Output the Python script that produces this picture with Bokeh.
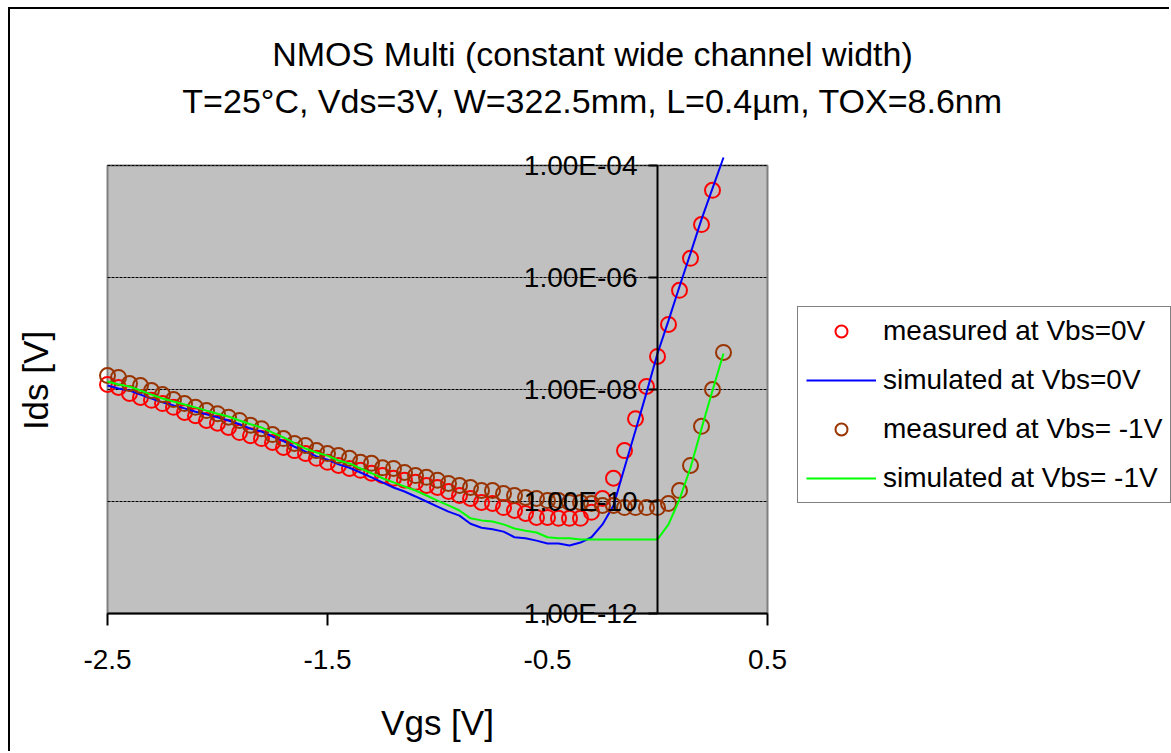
import math
from bokeh.plotting import figure
from bokeh.models import (FixedTicker, LogAxis, LinearAxis, Label, Legend, LegendItem,
                          CustomJSTickFormatter, ColumnDataSource, Range1d)
from bokeh.embed import file_html
from bokeh.resources import INLINE

# ---------------- data ----------------
vgs = [-2.5, -2.45, -2.4, -2.35, -2.3, -2.25, -2.2, -2.15, -2.1, -2.05,
       -2.0, -1.95, -1.9, -1.85, -1.8, -1.75, -1.7, -1.65, -1.6, -1.55,
       -1.5, -1.45, -1.4, -1.35, -1.3, -1.25, -1.2, -1.15, -1.1, -1.05,
       -1.0, -0.95, -0.9, -0.85, -0.8, -0.75, -0.7, -0.65, -0.6, -0.55,
       -0.5, -0.45, -0.4, -0.35, -0.3, -0.25, -0.2, -0.15, -0.1, -0.05,
       0.0, 0.05, 0.1, 0.15, 0.2, 0.25, 0.3]
vgs_meas_0v = vgs[:-1]

meas_0v = [1.23e-8, 1.09e-8, 8.5e-9, 7.2e-9, 6.4e-9, 5.6e-9, 4.8e-9, 3.9e-9, 3.4e-9, 2.8e-9,
           2.5e-9, 2.1e-9, 1.7e-9, 1.5e-9, 1.33e-9, 1.13e-9, 9.2e-10, 8.1e-10, 7.2e-10, 5.9e-10,
           5.0e-10, 4.4e-10, 3.9e-10, 3.6e-10, 3.2e-10, 2.9e-10, 2.6e-10, 2.4e-10, 2.2e-10, 1.93e-10,
           1.78e-10, 1.51e-10, 1.28e-10, 1.13e-10, 9.6e-11, 9.2e-11, 7.8e-11, 6.9e-11, 6.1e-11, 5.2e-11,
           5.2e-11, 5.0e-11, 5.0e-11, 5.0e-11, 6.4e-11, 1.13e-10, 2.6e-10, 8.1e-10, 3.0e-9, 1.13e-8,
           3.9e-8, 1.45e-7, 5.9e-7, 2.2e-6, 8.8e-6, 3.6e-5]

sim_0v = [1.18e-8, 1.04e-8, 9.6e-9, 8.1e-9, 6.9e-9, 5.9e-9, 5.2e-9, 4.6e-9, 4.0e-9, 3.6e-9,
          3.2e-9, 2.8e-9, 2.4e-9, 2.0e-9, 1.78e-9, 1.45e-9, 1.2e-9, 9.5e-10, 7.8e-10, 6.4e-10,
          5.6e-10, 4.6e-10, 4.0e-10, 3.3e-10, 2.7e-10, 2.2e-10, 1.78e-10, 1.51e-10, 1.23e-10, 1.0e-10,
          8.1e-11, 6.6e-11, 5.6e-11, 4.0e-11, 3.4e-11, 3.2e-11, 2.9e-11, 2.3e-11, 2.2e-11, 2.0e-11,
          1.78e-11, 1.78e-11, 1.64e-11, 1.85e-11, 2.3e-11, 3.9e-11, 8.5e-11, 4.0e-10, 1.85e-9, 8.8e-9,
          4.4e-8, 1.7e-7, 6.9e-7, 2.7e-6, 1.09e-5, 3.9e-5, 1.39e-4]

meas_m1v = [1.78e-8, 1.64e-8, 1.28e-8, 1.18e-8, 9.6e-9, 8.1e-9, 6.6e-9, 5.6e-9, 4.8e-9, 4.2e-9,
            3.7e-9, 3.2e-9, 2.8e-9, 2.3e-9, 2.0e-9, 1.57e-9, 1.33e-9, 1.09e-9, 1.0e-9, 8.1e-10,
            7.2e-10, 6.6e-10, 5.9e-10, 5.0e-10, 4.8e-10, 4.0e-10, 3.9e-10, 3.3e-10, 2.9e-10, 2.7e-10,
            2.4e-10, 2.1e-10, 1.93e-10, 1.78e-10, 1.57e-10, 1.57e-10, 1.39e-10, 1.28e-10, 1.18e-10, 1.13e-10,
            1.04e-10, 1.04e-10, 9.6e-11, 9.6e-11, 9.2e-11, 8.5e-11, 8.5e-11, 7.8e-11, 7.8e-11, 7.8e-11,
            7.8e-11, 9.2e-11, 1.57e-10, 4.4e-10, 2.2e-9, 1.0e-8, 4.6e-8]

sim_m1v = [1.39e-8, 1.23e-8, 1.13e-8, 9.6e-9, 8.1e-9, 6.9e-9, 6.1e-9, 5.4e-9, 4.8e-9, 4.2e-9,
           3.7e-9, 3.3e-9, 2.8e-9, 2.4e-9, 2.1e-9, 1.7e-9, 1.4e-9, 1.1e-9, 8.8e-10, 7.5e-10,
           6.6e-10, 5.4e-10, 4.8e-10, 3.9e-10, 3.2e-10, 2.6e-10, 2.2e-10, 1.85e-10, 1.57e-10, 1.28e-10,
           1.04e-10, 8.5e-11, 6.9e-11, 5.0e-11, 4.6e-11, 4.4e-11, 3.9e-11, 3.3e-11, 3.0e-11, 2.8e-11,
           2.3e-11, 2.2e-11, 2.2e-11, 2.1e-11, 2.1e-11, 2.1e-11, 2.1e-11, 2.1e-11, 2.1e-11, 2.1e-11,
           2.1e-11, 3.9e-11, 1.09e-10, 4.0e-10, 2.0e-9, 9.6e-9, 4.4e-8]

x_ticks = [-2.5, -1.5, -0.5, 0.5]
y_ticks = [1e-12, 1e-10, 1e-8, 1e-6, 1e-4]

title_line1 = "NMOS Multi (constant wide channel width)"
title_line2 = "T=25°C, Vds=3V, W=322.5mm, L=0.4µm, TOX=8.6nm"
x_title = "Vgs [V]"
y_title = "Ids [V]"
series_names = ["measured at Vbs=0V", "simulated at Vbs=0V",
                "measured at Vbs= -1V", "simulated at Vbs= -1V"]

FONT = "Liberation Sans"

# ---------------- layout (canvas pixels) ----------------
W, H = 1161, 744
PL, PR, PT, PB = 97, 757, 156, 604       # grey plot area inside the canvas
px_per_v = (PR - PL) / (x_ticks[-1] - x_ticks[0])
lo, hi = math.log10(y_ticks[0]), math.log10(y_ticks[-1])
px_per_dec = (PB - PT) / (hi - lo)
x_start = x_ticks[0] - PL / px_per_v
x_end = x_ticks[-1] + (W - PR) / px_per_v
y_start = 10 ** (lo - (H - PB) / px_per_dec)
y_end = 10 ** (hi + PT / px_per_dec)

p = figure(width=W, height=H, y_axis_type="log",
           x_axis_location=None, y_axis_location=None,
           x_range=Range1d(x_start, x_end), y_range=Range1d(y_start, y_end),
           output_backend="svg", toolbar_location=None,
           min_border=0, min_border_left=0, min_border_right=0,
           min_border_top=0, min_border_bottom=0)
p.styles = {"margin-left": "8px", "margin-top": "7px",
            "border-left": "2px solid black", "border-top": "2px solid black"}
p.grid.visible = False
p.outline_line_color = None
p.background_fill_color = "white"
p.border_fill_color = "white"

# grey plot area and dashed major gridlines
p.quad(left=[x_ticks[0]], right=[x_ticks[-1]], bottom=[y_ticks[0]], top=[y_ticks[-1]],
       fill_color="#C0C0C0", line_color="#808080", line_width=2)
p.segment(x0=[x_ticks[0]] * len(y_ticks), x1=[x_ticks[-1]] * len(y_ticks),
          y0=y_ticks, y1=y_ticks, line_color="black", line_width=1, line_dash="3 1")

# ---------------- series ----------------
src_m0 = ColumnDataSource(dict(x=vgs_meas_0v, y=meas_0v))
src_s0 = ColumnDataSource(dict(x=vgs, y=sim_0v))
src_m1 = ColumnDataSource(dict(x=vgs, y=meas_m1v))
src_s1 = ColumnDataSource(dict(x=vgs, y=sim_m1v))

r_m0 = p.scatter("x", "y", source=src_m0, marker="circle", size=15,
                 fill_color=None, line_color="#FF0000", line_width=2)
r_s0 = p.line("x", "y", source=src_s0, line_color="#0000FF", line_width=2)
r_m1 = p.scatter("x", "y", source=src_m1, marker="circle", size=15,
                 fill_color=None, line_color="#993300", line_width=2)
r_s1 = p.line("x", "y", source=src_s1, line_color="#00FF00", line_width=2)

# ---------------- axes ----------------
xa = LinearAxis(fixed_location=y_ticks[0], bounds=(x_ticks[0], x_ticks[-1]))
xa.ticker = FixedTicker(ticks=x_ticks)
xa.formatter = CustomJSTickFormatter(code="return tick.toFixed(1);")
xa.axis_line_color = "black"
xa.axis_line_width = 2
xa.major_tick_line_color = "black"
xa.major_tick_line_width = 2
xa.major_tick_out = 12
xa.major_tick_in = 0
xa.minor_tick_line_color = None
xa.major_label_standoff = 24
xa.major_label_text_font = FONT
xa.major_label_text_font_size = "28px"
xa.major_label_text_color = "black"
p.add_layout(xa, "below")

ya = LogAxis(fixed_location=0, bounds=(y_ticks[0], y_ticks[-1]))
ya.ticker = FixedTicker(ticks=y_ticks)
ya.formatter = CustomJSTickFormatter(code="""
const e = Math.round(Math.log10(tick));
const m = tick / Math.pow(10, e);
const s = (e < 0 ? '-' : '+') + String(Math.abs(e)).padStart(2, '0');
return m.toFixed(2) + 'E' + s;
""")
ya.axis_line_color = "black"
ya.axis_line_width = 2
ya.major_tick_line_color = "black"
ya.major_tick_line_width = 2
ya.major_tick_out = 9
ya.major_tick_in = 0
ya.minor_tick_line_color = None
ya.major_label_standoff = 11
ya.major_label_text_font = FONT
ya.major_label_text_font_size = "28px"
ya.major_label_text_color = "black"
p.add_layout(ya, "left")

# ---------------- legend ----------------
legend = Legend(items=[LegendItem(label=series_names[0], renderers=[r_m0]),
                       LegendItem(label=series_names[1], renderers=[r_s0]),
                       LegendItem(label=series_names[2], renderers=[r_m1]),
                       LegendItem(label=series_names[3], renderers=[r_s1])],
                location=(787, 250))
legend.label_text_font = FONT
legend.label_text_font_size = "28px"
legend.label_text_color = "black"
legend.glyph_width = 70
legend.glyph_height = 30
legend.label_height = 30
legend.label_standoff = 7
legend.spacing = 17
legend.padding = 8
legend.margin = 0
legend.border_line_color = "black"
legend.border_line_width = 1.5
legend.background_fill_color = "white"
legend.background_fill_alpha = 1
p.add_layout(legend)

# ---------------- texts ----------------
def add_text(txt, cx, cy, size, angle=0.0):
    p.add_layout(Label(x=cx, y=H - cy, x_units="screen", y_units="screen", text=txt,
                       angle=angle, text_align="center", text_baseline="middle",
                       text_font=FONT, text_font_size=size, text_color="black"))

add_text(title_line1, 582, 44, "34px")
add_text(title_line2, 582, 91, "34px")
add_text(x_title, (PL + PR) / 2, 713, "35px")
add_text(y_title, 25, (PT + PB) / 2 - 9, "35px", angle=math.pi / 2)

open("out.html", "w").write(file_html(p, INLINE))
